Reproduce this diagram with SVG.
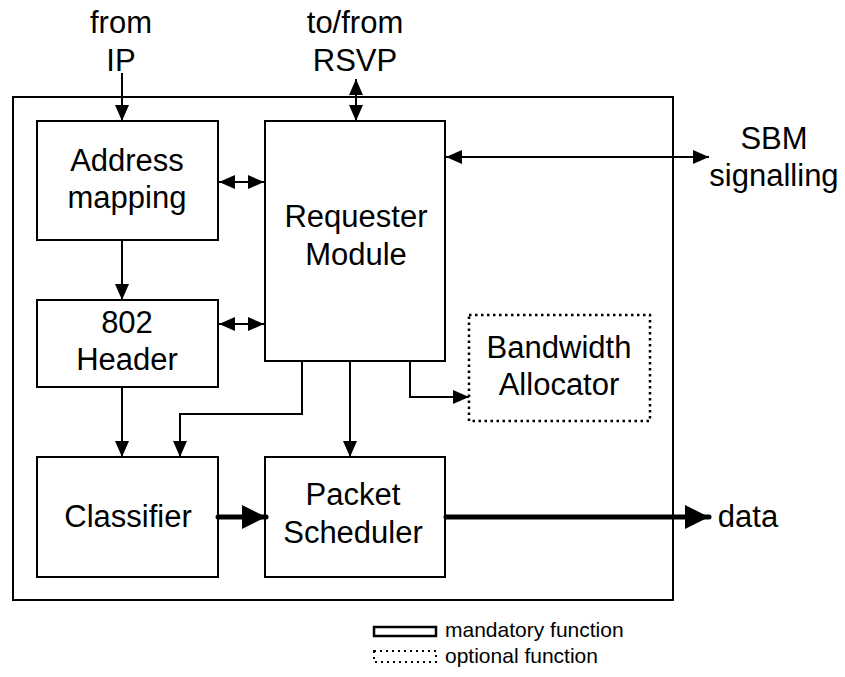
<svg xmlns="http://www.w3.org/2000/svg" width="845" height="677" viewBox="0 0 845 677">
  <style>
    .box { fill: #fff; stroke: #000; stroke-width: 2; }
    .opt { fill: #fff; stroke: #000; stroke-width: 2.5; stroke-dasharray: 2.5 3.5; }
    .lbl { font-family: "Liberation Sans", Arial, sans-serif; font-size: 31px; fill: #000; text-anchor: middle; }
    .leg { font-family: "Liberation Sans", Arial, sans-serif; font-size: 21px; fill: #000; }
    .ln { fill: none; stroke: #000; stroke-width: 2; }
    .thick { fill: none; stroke: #000; stroke-width: 5; stroke-linecap: round; }
  </style>
  <defs>
    <marker id="ah" markerUnits="userSpaceOnUse" markerWidth="16" markerHeight="14" viewBox="0 0 16 14" refX="16" refY="7" orient="auto-start-reverse">
      <path d="M0,0 L16,7 L0,14 Z" fill="#000"/>
    </marker>
    <marker id="ahBig" markerUnits="userSpaceOnUse" markerWidth="24" markerHeight="24" viewBox="0 0 24 24" refX="24" refY="12" orient="auto">
      <path d="M0,0 L24,12 L0,24 Z" fill="#000"/>
    </marker>
  </defs>

  <!-- enclosing frame -->
  <rect id="frame" class="box" x="13" y="97" width="660" height="503"/>

  <!-- external labels -->
  <g id="from-ip">
    <text class="lbl" x="121" y="33">from</text>
    <text class="lbl" x="121" y="71">IP</text>
  </g>
  <g id="rsvp">
    <text class="lbl" x="355" y="33">to/from</text>
    <text class="lbl" x="355" y="71">RSVP</text>
  </g>
  <g id="sbm">
    <text class="lbl" x="774" y="149">SBM</text>
    <text class="lbl" x="774" y="186">signalling</text>
  </g>
  <g id="data">
    <text class="lbl" x="748" y="527">data</text>
  </g>

  <!-- function blocks -->
  <g id="address-mapping">
    <rect class="box" x="37" y="121" width="181" height="119"/>
    <text class="lbl" x="127" y="171">Address</text>
    <text class="lbl" x="127" y="208">mapping</text>
  </g>
  <g id="requester-module">
    <rect class="box" x="265" y="121" width="180" height="240"/>
    <text class="lbl" x="356" y="227">Requester</text>
    <text class="lbl" x="356" y="265">Module</text>
  </g>
  <g id="header-802">
    <rect class="box" x="37" y="300" width="181" height="87"/>
    <text class="lbl" x="127" y="333">802</text>
    <text class="lbl" x="127" y="370">Header</text>
  </g>
  <g id="bandwidth-allocator">
    <rect class="opt" x="469" y="315" width="181" height="106"/>
    <text class="lbl" x="559" y="358">Bandwidth</text>
    <text class="lbl" x="559" y="395">Allocator</text>
  </g>
  <g id="classifier">
    <rect class="box" x="37" y="457" width="181" height="120"/>
    <text class="lbl" x="128" y="527">Classifier</text>
  </g>
  <g id="packet-scheduler">
    <rect class="box" x="265" y="457" width="180" height="120"/>
    <text class="lbl" x="353" y="505">Packet</text>
    <text class="lbl" x="353" y="543">Scheduler</text>
  </g>

  <!-- connectors -->
  <g id="connectors">
    <path class="ln" d="M122,73 V121" marker-end="url(#ah)"/>
    <path class="ln" d="M356,79 V121" marker-start="url(#ah)" marker-end="url(#ah)"/>
    <path class="ln" d="M219,182 H264" marker-start="url(#ah)" marker-end="url(#ah)"/>
    <path class="ln" d="M219,324 H264" marker-start="url(#ah)" marker-end="url(#ah)"/>
    <path class="ln" d="M446,157 H709" marker-start="url(#ah)" marker-end="url(#ah)"/>
    <path class="ln" d="M122,240 V300" marker-end="url(#ah)"/>
    <path class="ln" d="M122,387 V457" marker-end="url(#ah)"/>
    <path class="ln" d="M302,361 V414 H180 V457" marker-end="url(#ah)"/>
    <path class="ln" d="M350,361 V457" marker-end="url(#ah)"/>
    <path class="ln" d="M410,361 V397 H469" marker-end="url(#ah)"/>
    <path class="thick" d="M218,517 H266" marker-end="url(#ahBig)"/>
    <path class="thick" d="M446,517 H709" marker-end="url(#ahBig)"/>
  </g>

  <!-- legend -->
  <g id="legend">
    <rect x="374" y="627" width="62" height="9" fill="#fff" stroke="#000" stroke-width="2.5"/>
    <text class="leg" x="445" y="637">mandatory function</text>
    <rect x="374" y="651" width="62" height="11" fill="none" stroke="#000" stroke-width="2" stroke-dasharray="2 4"/>
    <text class="leg" x="445" y="663">optional function</text>
  </g>
</svg>
